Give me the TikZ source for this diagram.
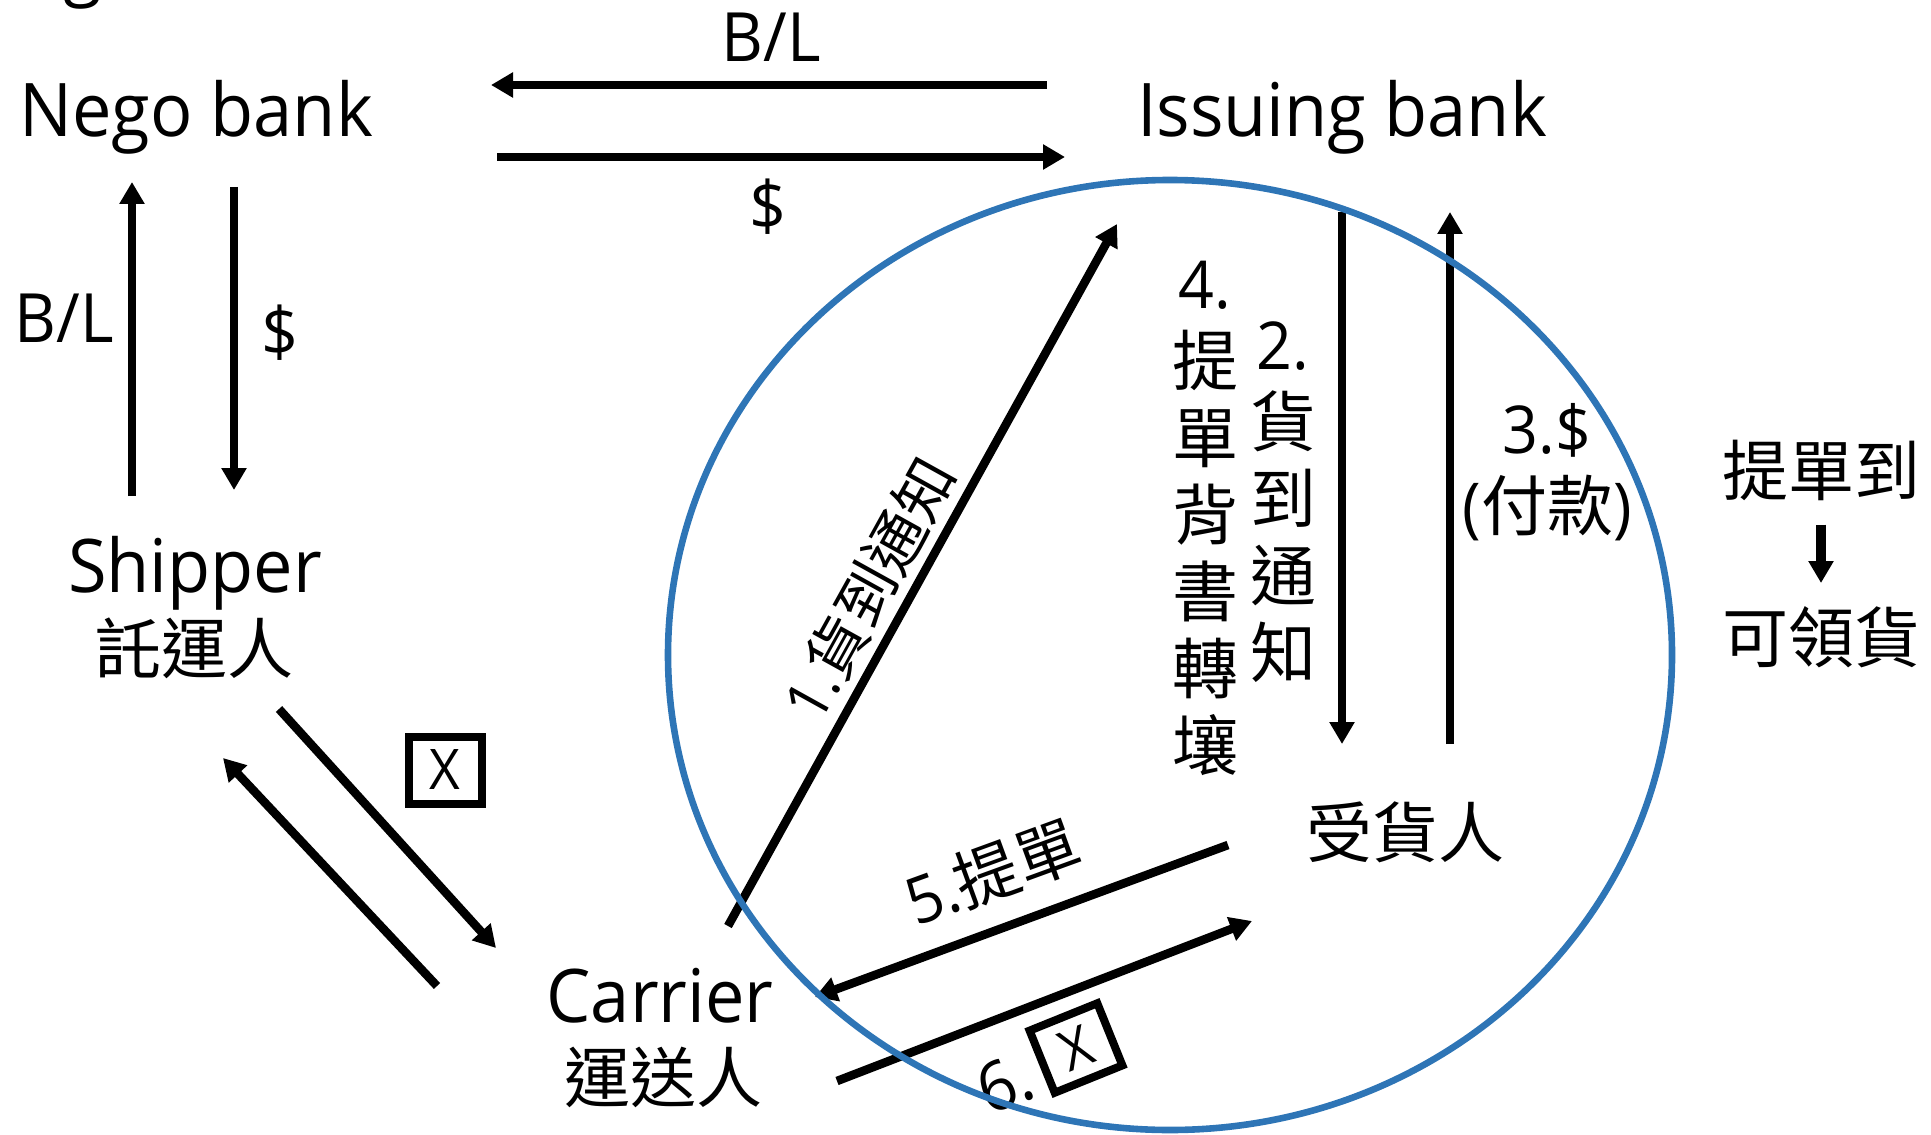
\documentclass[tikz,border=0pt]{standalone}
\usepackage{fontspec}
\setmainfont{Open Sans}[FakeStretch=0.95]
\newfontfamily\cjk{Noto Sans CJK TC}
\newcommand\zh[1]{{\cjk #1}}
\usetikzlibrary{arrows.meta}
\definecolor{ringblue}{RGB}{46,117,182}
\tikzset{
  arr/.style={line width=4.3pt, -{Triangle[length=11pt,width=12pt]}},
  big/.style={font=\fontsize{37}{44}\selectfont, inner sep=0pt},
  lbl/.style={font=\fontsize{34}{40}\selectfont, inner sep=0pt},
  cj/.style={font=\fontsize{33}{38.5}\selectfont\cjk, inner sep=0pt},
  col/.style={font=\fontsize{33}{38.5}\selectfont, inner sep=0pt, align=center},
  xbox/.style={draw, line width=4pt, minimum width=36.5pt, minimum height=33.5pt, inner sep=0pt, font=\fontsize{28}{32}\selectfont},
  ring/.style={draw=ringblue, line width=3.3pt}
}
\begin{document}
\begin{tikzpicture}[x=0.5pt, y=-0.5pt]
\useasboundingbox (0,0) rectangle (1931,1134);
% texts
\node[big, anchor=base] (g) at (83,-8) {g};
\node[big, anchor=base] (nego) at (196,137) {Nego bank};
\node[big, anchor=base] (issuing) at (1342,137) {Issuing bank};
\node[lbl, anchor=base] (blTop) at (771,62) {B/L};
\node[lbl] (dTop) at (768,207) {\$};
\node[lbl] (blLeft) at (64,318) {B/L};
\node[lbl] (dLeft) at (280,333) {\$};
\node[big, anchor=base] (shipper) at (195,592) {Shipper};
\node[cj] (shipperZh) at (194,648) {託運人};
\node[big, anchor=base] (carrier) at (660,1022) {Carrier};
\node[cj] (carrierZh) at (663,1077) {運送人};
\node[cj] (consignee) at (1405,832) {受貨人};
\node[col] (col4) at (1205,518) {4.\\\zh{提}\\\zh{單}\\\zh{背}\\\zh{書}\\\zh{轉}\\\zh{壤}};
\node[col] (col2) at (1283,502) {2.\\\zh{貨}\\\zh{到}\\\zh{通}\\\zh{知}};
\node[col] (pay) at (1547,472) {3.\$\\(\zh{付款})};
\node[cj] (rt1) at (1821,470) {提單到};
\node[cj] (rt2) at (1821,637) {可領貨};
\node[inner sep=0pt, font=\fontsize{30}{36}\selectfont, rotate=61] (l1) at (869,589) {1.\zh{貨到通知}};
\node[inner sep=0pt, font=\fontsize{32.5}{38}\selectfont, rotate=20] (l5) at (993,872) {5.\zh{提單}};
\node[lbl, rotate=21] (l6) at (1005,1083) {6.};
\node[xbox] (box0) at (445,770) {X};
\node[xbox, rotate=22] (box6) at (1076,1048) {X};
% connector end points
\coordinate (t1s) at (1047,85);  \coordinate (t1e) at (491,85);
\coordinate (t2s) at (497,157);  \coordinate (t2e) at (1065,157);
\coordinate (v1s) at (132,496);  \coordinate (v1e) at (132,182);
\coordinate (v2s) at (234,187);  \coordinate (v2e) at (234,490);
\coordinate (d1s) at (279,709);  \coordinate (d1e) at (496,948);
\coordinate (d2s) at (437,986);  \coordinate (d2e) at (223,758);
\coordinate (a1s) at (728,926);  \coordinate (a1e) at (1117,224);
\coordinate (a2s) at (1342,212); \coordinate (a2e) at (1342,744);
\coordinate (a3s) at (1450,744); \coordinate (a3e) at (1450,212);
\coordinate (a5s) at (1228,845); \coordinate (a5e) at (815,997);
\coordinate (a6s) at (837,1081); \coordinate (a6e) at (1252,921);
\coordinate (rs) at (rt1.south); \coordinate (re) at (1821,583);
% arrows
\draw[arr] (t1s) -- (t1e);
\draw[arr] (t2s) -- (t2e);
\draw[arr] (v1s) -- (v1e);
\draw[arr] (v2s) -- (v2e);
\draw[arr] (d1s) -- (d1e);
\draw[arr] (d2s) -- (d2e);
\draw[arr] (a1s) -- (a1e);
\draw[arr] (a2s) -- (a2e);
\draw[arr] (a3s) -- (a3e);
\draw[arr] (a5s) -- (a5e);
\draw[arr] (a6s) -- (a6e);
\draw[arr, line width=4.8pt] ([yshift=-12pt]rs) -- (re);
% ring
\draw[ring] (1170,655) ellipse [x radius=502, y radius=475];
\end{tikzpicture}
\end{document}
